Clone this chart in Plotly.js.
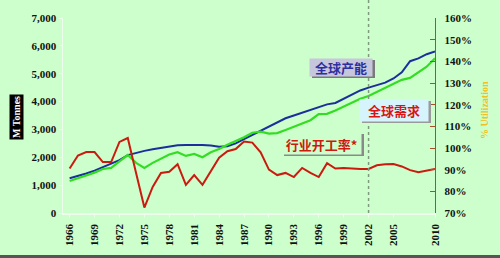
<!DOCTYPE html>
<html>
<head>
<meta charset="utf-8">
<script src="https://cdn.plot.ly/plotly-3.0.1.min.js"></script>
<style>html,body{margin:0;padding:0;background:#ccffcc;}#chart{width:500px;height:258px;}</style>
</head>
<body>
<div id="chart"></div>
<script>
const years = [1966,1967,1968,1969,1970,1971,1972,1973,1974,1975,1976,1977,1978,1979,1980,1981,1982,1983,1984,1985,1986,1987,1988,1989,1990,1991,1992,1993,1994,1995,1996,1997,1998,1999,2000,2001,2002,2003,2004,2005,2006,2007,2008,2009,2010];
const capacity = [1250,1330,1420,1520,1650,1760,1900,2080,2160,2230,2290,2330,2380,2430,2440,2450,2440,2420,2380,2400,2500,2650,2800,2950,3080,3250,3400,3500,3600,3700,3800,3900,3950,4100,4250,4400,4500,4580,4680,4830,5050,5450,5550,5700,5800];
const demand = [1150,1250,1350,1450,1580,1620,1850,2080,1800,1620,1800,1950,2100,2180,2050,2120,2000,2180,2300,2450,2580,2720,2880,2920,2850,2870,2980,3100,3200,3330,3550,3560,3680,3820,3950,4100,4200,4350,4500,4650,4780,4850,5050,5250,5550];
const utilization = [90.5,96.5,98.1,98.1,93.5,93.5,102.8,104.6,88.5,72.5,82,88.5,89,92.5,83,87.5,83,89,95.5,98.5,99.5,103,102.5,98,90,87.5,88.5,86.6,90.8,88.5,86.6,93,90.5,90.8,90.5,90.3,90.3,92,92.5,92.6,91.5,89.8,88.8,89.5,90.3];
const xTickVals = [1966,1969,1972,1975,1978,1981,1984,1987,1990,1993,1996,1999,2002,2005,2010];
const xTickText = xTickVals.map(String);
const markerYear = 2002;

const W = 500, H = 258, L = 63, R = 65, T = 18, B = 45;
const pw = W - L - R, ph = H - T - B;
const px = x => (x - L) / pw;
const py = y => (H - B - y) / ph;

const serif = "Liberation Serif, Times New Roman, serif";
const cjk = "Noto Sans CJK SC, sans-serif";

const traces = [
  {x: years, y: capacity, type: 'scatter', mode: 'lines', name: '全球产能', line: {color: '#1c2e9c', width: 2}},
  {x: years, y: demand, type: 'scatter', mode: 'lines', name: '全球需求', line: {color: '#33dd22', width: 2.2}},
  {x: years, y: utilization, type: 'scatter', mode: 'lines', name: '行业开工率*', yaxis: 'y2', line: {color: '#cc1a10', width: 2}}
];

function box(x0, y0, x1, y1, color) {
  return {type: 'rect', xref: 'paper', yref: 'paper', x0: px(x0), x1: px(x1), y0: py(y1), y1: py(y0), fillcolor: color, line: {width: 0}, layer: 'above'};
}
function label(cx, cy, text, font, extra) {
  return Object.assign({xref: 'paper', yref: 'paper', x: px(cx), y: py(cy), xanchor: 'center', yanchor: 'middle',
    text: text, showarrow: false, font: font}, extra || {});
}

const layout = {
  width: W, height: H,
  margin: {l: L, r: R, t: T, b: B, pad: 0},
  paper_bgcolor: '#ccffcc',
  plot_bgcolor: '#ccffcc',
  showlegend: false,
  xaxis: {
    range: [1965.2, 2010], tickvals: xTickVals, ticktext: xTickText, tickangle: -90,
    showgrid: false, zeroline: false, showline: true, linecolor: '#eefcee', linewidth: 1.5,
    ticks: 'outside', ticklen: 3, tickcolor: '#eefcee', ticklabelstandoff: 2,
    tickfont: {family: serif, size: 11, color: '#111', weight: 700}
  },
  yaxis: {
    range: [0, 7000], dtick: 1000, tickformat: ',', showgrid: false, zeroline: false,
    showline: true, linecolor: '#eefcee', linewidth: 1.5, ticks: 'outside', ticklen: 3, tickcolor: '#eefcee',
    tickfont: {family: serif, size: 11, color: '#111', weight: 700}
  },
  yaxis2: {
    overlaying: 'y', side: 'right', range: [70, 160], dtick: 10, ticksuffix: '%',
    showgrid: false, zeroline: false, showline: true, linecolor: '#a8502a', linewidth: 1.2,
    ticks: 'inside', ticklen: 5, tickcolor: '#a8502a', ticklabelstandoff: 6,
    tickfont: {family: serif, size: 11, color: '#111', weight: 700}
  },
  shapes: [
    {type: 'line', xref: 'x', yref: 'paper', x0: markerYear, x1: markerYear, y0: 0, y1: py(0), line: {color: '#7f9a7f', width: 1.5, dash: 'dot'}},
    box(312, 60, 375, 78, '#7a7a7a'),
    box(362, 101, 431, 123, '#9a9a9a'),
    box(284, 134, 364, 156, '#8a8a8a'),
    {type: 'rect', xref: 'paper', yref: 'paper', x0: px(0), x1: px(500), y0: py(258), y1: py(255), fillcolor: '#555555', line: {width: 0}}
  ],
  annotations: [
    label(341, 67, '<b>全球产能</b>', {family: cjk, size: 13, color: '#2d2fa0'}, {bgcolor: '#c6c6dc', borderpad: 0, width: 62, height: 17}),
    label(394, 110, '<b>全球需求</b>', {family: cjk, size: 13, color: '#d81414'}, {bgcolor: '#d6f4fb', borderpad: 0, width: 68, height: 21}),
    label(321, 144, '<b>行业开工率*</b>', {family: cjk, size: 13, color: '#cc1a10'}, {bgcolor: '#ccffcc', borderpad: 0, width: 79, height: 20}),
    label(16, 117, '<b>M Tonnes</b>', {family: serif, size: 10, color: '#ffffff'}, {textangle: -90, bgcolor: '#000000', borderpad: 1}),
    label(484, 110, '<b>% Utilization</b>', {family: serif, size: 10, color: '#f0c020'}, {textangle: -90})
  ]
};

Plotly.newPlot('chart', traces, layout, {displayModeBar: false, staticPlot: true});
</script>
</body>
</html>
